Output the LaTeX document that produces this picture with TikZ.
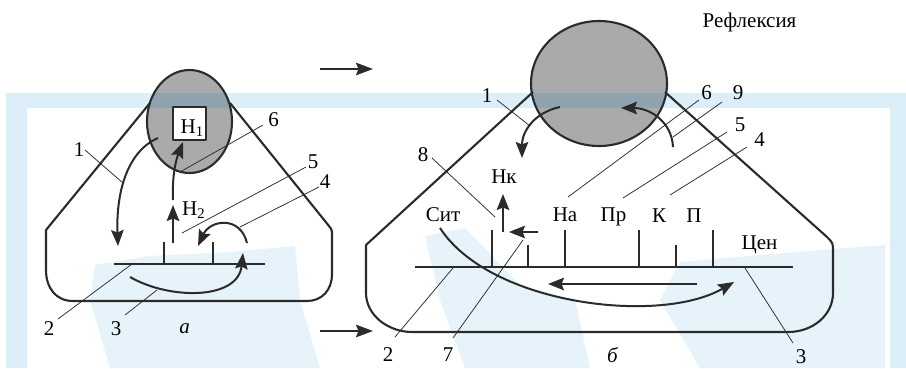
\documentclass[tikz,border=0pt]{standalone}
\usepackage{fontspec}
\setmainfont{Liberation Serif}
\usetikzlibrary{arrows.meta}
\definecolor{ink}{HTML}{2B2B2B}
\definecolor{wm}{HTML}{DCEEF7}
\definecolor{wmlight}{HTML}{E7F3FA}
\definecolor{egray}{HTML}{AAAAAC}
\definecolor{bandover}{HTML}{8FA2AD}
\begin{document}
\begin{tikzpicture}[x=1pt,y=-1pt,line join=round,
  outline/.style={ink,line width=2.1pt},
  arr/.style={ink,line width=2pt,-{Stealth[length=16pt,width=12.5pt,inset=2.5pt]}},
  bigarr/.style={ink,line width=2pt,-{Stealth[length=17pt,width=12.5pt,inset=2.5pt]}},
  lead/.style={ink,line width=0.75pt},
  tickmark/.style={ink,line width=2pt},
  lbl/.style={inner sep=0pt,anchor=base,font=\fontsize{21}{24}\selectfont},
  ilbl/.style={lbl,font=\fontsize{21}{24}\selectfont\itshape}]
\useasboundingbox (0,0) rectangle (906,368);
% watermark background
\fill[wm] (6,93) rectangle (906,368);
\fill[white] (27,108) rectangle (890,368);
\fill[wmlight] (95,265) -- (150,256) -- (230,252) -- (295,246) -- (300,300) -- (320,368) -- (110,368) -- (90,300) -- cycle;
\fill[wmlight] (425,236) -- (465,228) -- (520,285) -- (575,300) -- (590,368) -- (465,368) -- (440,300) -- cycle;
\fill[wmlight] (680,262) -- (760,255) -- (885,245) -- (885,368) -- (700,368) -- (660,300) -- cycle;
% ellipses
\fill[egray] (189.5,121.5) ellipse [x radius=42.5,y radius=51.5];
\fill[egray] (599,83.5) ellipse [x radius=68,y radius=62.5];
\begin{scope}
\clip (189.5,121.5) ellipse [x radius=42.5,y radius=51.5];
\fill[bandover] (6,93) rectangle (906,108);
\end{scope}
\begin{scope}
\clip (599,83.5) ellipse [x radius=68,y radius=62.5];
\fill[bandover] (6,93) rectangle (906,108);
\end{scope}
\draw[outline] (189.5,121.5) ellipse [x radius=42.5,y radius=51.5];
\draw[outline] (599,83.5) ellipse [x radius=68,y radius=62.5];
% outlines
\draw[outline] (150,103) -- (46,230) -- (46,270) .. controls (46,288) and (56,301) .. (73,301) -- (307,301) .. controls (322,301) and (332,290) .. (332,274) -- (332,236) .. controls (332,230) .. (329,226) -- (230,103);
\draw[outline] (533,92) -- (366,245) -- (366,293) .. controls (366,315) and (388,332) .. (412,332) -- (788,332) .. controls (813,332) and (833,315) .. (833,293) -- (833,252) .. controls (833,243) .. (827,237) -- (665,92);
% H1 box
\node[draw=ink,line width=1.9pt,fill=white,minimum width=33pt,minimum height=33pt,inner sep=0pt] (h1box) at (189.5,123.5) {};
\node[lbl,anchor=base west] (h1) at (180.5,133) {Н\textsubscript{1}};
% base lines and ticks
\draw[tickmark] (114,264) -- (265,264);
\draw[tickmark] (164,242) -- (164,264);
\draw[tickmark] (213,242) -- (213,264);
\draw[tickmark] (415,267) -- (793,267);
\foreach \x/\t in {492/230,528/245,565/230,639/230,676/245,713/230}
  \draw[tickmark] (\x,\t) -- (\x,267);
% left arrows
\draw[arr] (158,138) .. controls (126,152) and (116,195) .. (118,246);
\draw[arr] (173,200) .. controls (172,175) and (176,160) .. (183,142);
\draw[arr] (173,243) -- (173,205);
\draw[arr] (247,243) .. controls (240,215) and (210,220) .. (198,246);
\draw[arr] (130,277) .. controls (170,300) and (238,300) .. (243,253);
% middle arrows
\draw[bigarr] (320,69) -- (373,69);
\draw[bigarr] (320,331) -- (373,331);
% right arrows
\draw[arr] (560,107) .. controls (536,112) and (522,130) .. (522,158);
\draw[arr] (673,147) .. controls (672,122) and (650,108) .. (621,108);
\draw[arr] (503,232) -- (503,194);
\draw[arr] (538,232) -- (509,232);
\draw[arr] (440,228) .. controls (490,305) and (660,325) .. (734,282);
\draw[arr] (697,284) -- (548,284);
% left leaders
\draw[lead] (85,150) -- (123,183);
\draw[lead] (263,125) -- (180,172);
\draw[lead] (306,167) -- (182,233);
\draw[lead] (319,187) -- (240,227);
\draw[lead] (58,319) -- (132,264);
\draw[lead] (125,315) -- (157,290);
% right leaders
\draw[lead] (497,100) -- (530,126);
\draw[lead] (432,158) -- (495,217);
\draw[lead] (453,338) -- (523,240);
\draw[lead] (395,337) -- (453,268);
\draw[lead] (793,343) -- (745,268);
\draw[lead] (699,100) -- (568,197);
\draw[lead] (722,102) -- (673,137);
\draw[lead] (727,132) -- (623,198);
\draw[lead] (747,147) -- (670,195);
% left labels
\node[lbl] (la1) at (79,156) {1};
\node[lbl] (la6) at (273.5,126) {6};
\node[lbl] (la5) at (313,168) {5};
\node[lbl] (la4) at (325,188) {4};
\node[lbl] (la2) at (49,335) {2};
\node[lbl] (la3) at (116,335) {3};
\node[ilbl] (lata) at (184.5,333) {а};
\node[lbl,anchor=base west] (h2) at (182,215) {Н\textsubscript{2}};
% right labels
\node[lbl] (rb1) at (487,102) {1};
\node[lbl] (rb8) at (423,161) {8};
\node[lbl] (nk) at (504,183) {Нк};
\node[lbl] (sit) at (443,221) {Сит};
\node[lbl] (na) at (565,221) {На};
\node[lbl] (pr) at (613.5,221) {Пр};
\node[lbl] (k) at (659,222) {К};
\node[lbl] (p) at (694,222) {П};
\node[lbl] (cen) at (759.5,249) {Цен};
\node[lbl] (refl) at (749.5,27) {Рефлексия};
\node[lbl] (rb6) at (706.5,99) {6};
\node[lbl] (rb9) at (738,99) {9};
\node[lbl] (rb5) at (740,131) {5};
\node[lbl] (rb4) at (759.5,146) {4};
\node[lbl] (rb3) at (801,363) {3};
\node[lbl] (rb2) at (388,361) {2};
\node[lbl] (rb7) at (448,361) {7};
\node[ilbl] (latb) at (612.5,362) {б};
\end{tikzpicture}
\end{document}
